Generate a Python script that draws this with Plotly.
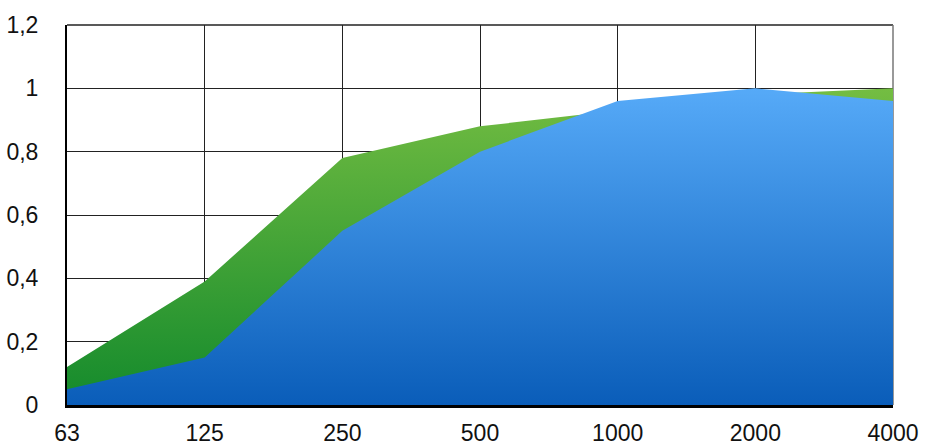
import plotly.graph_objects as go

# Octave-band centre frequencies (Hz)
bands = ["63", "125", "250", "500", "1000", "2000", "4000"]

# Absorption coefficients of the two materials
green_alpha = [0.12, 0.39, 0.78, 0.88, 0.93, 0.98, 1.00]
blue_alpha = [0.05, 0.15, 0.55, 0.80, 0.96, 1.00, 0.96]

y_ticks = [0, 0.2, 0.4, 0.6, 0.8, 1.0, 1.2]

fig = go.Figure()

fig.add_trace(go.Scatter(
    x=bands, y=green_alpha, mode="lines", fill="tozeroy",
    line=dict(width=0, color="#4CA83A"),
    fillgradient=dict(type="vertical", start=0, stop=1.0,
                      colorscale=[[0, "#138A2C"], [1, "#74BD42"]]),
    hoverinfo="x+y", showlegend=False,
))
fig.add_trace(go.Scatter(
    x=bands, y=blue_alpha, mode="lines", fill="tozeroy",
    line=dict(width=0, color="#3A8AE0"),
    fillgradient=dict(type="vertical", start=0, stop=1.0,
                      colorscale=[[0, "#0A5DB9"], [1, "#56AAF8"]]),
    hoverinfo="x+y", showlegend=False,
))

tick_font = dict(family="Liberation Sans, Arial, sans-serif", size=23, color="#111")

fig.update_layout(
    width=926, height=445,
    margin=dict(l=67, r=33, t=25, b=40),
    paper_bgcolor="white", plot_bgcolor="white",
    separators=", ",
    xaxis=dict(
        type="category", range=[0, 6], automargin=False,
        showgrid=True, gridcolor="#222", gridwidth=1,
        showline=True, linecolor="#000", linewidth=3, mirror=False,
        ticks="", tickfont=tick_font, ticklabelstandoff=5,
        layer="above traces", zeroline=False,
    ),
    yaxis=dict(
        range=[0, 1.2], tickvals=y_ticks, automargin=False,
        showgrid=True, gridcolor="#222", gridwidth=1,
        showline=True, linecolor="#000", linewidth=2,
        ticks="", tickfont=tick_font, ticklabelstandoff=22,
        layer="above traces", zeroline=False,
    ),
    shapes=[
        # top and right edges of the plot frame
        dict(type="line", xref="paper", yref="paper", x0=0, x1=1, y0=1, y1=1,
             line=dict(color="#222", width=1.5), layer="below"),
        dict(type="line", xref="paper", yref="paper", x0=1, x1=1, y0=0, y1=1,
             line=dict(color="#777", width=1.5), layer="below"),
    ],
)

fig.write_html("out.html")
